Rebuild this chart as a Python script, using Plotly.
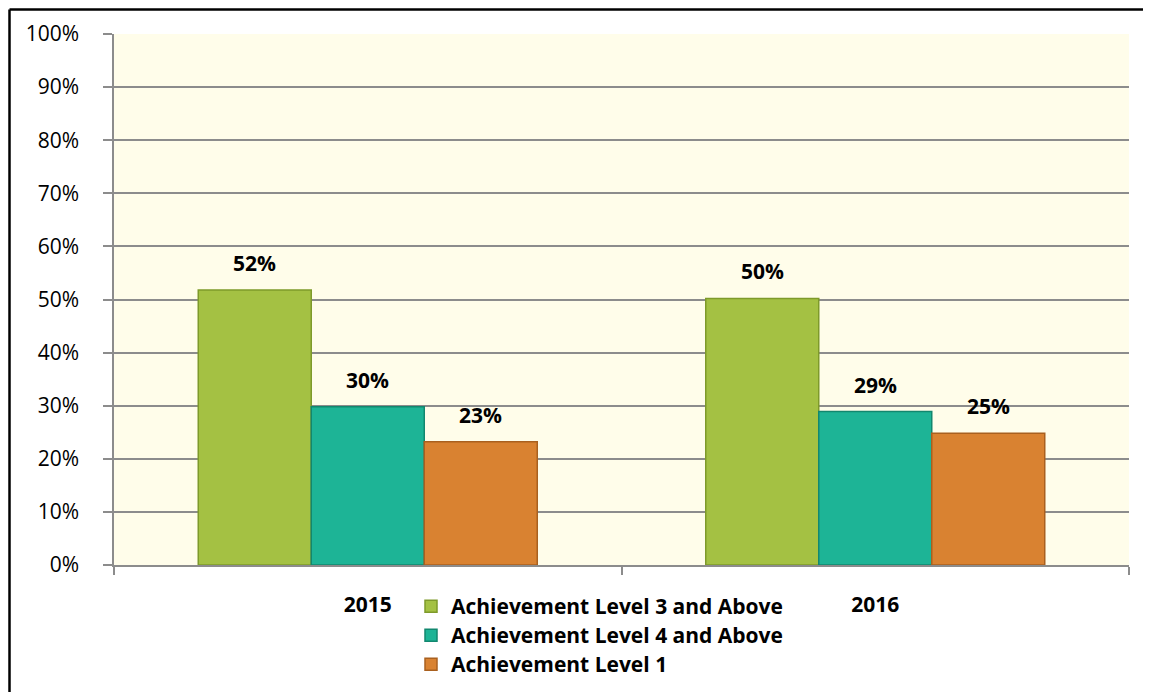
import plotly.graph_objects as go

years = ["2015", "2016"]
series_names = ["Achievement Level 3 and Above", "Achievement Level 4 and Above", "Achievement Level 1"]
level3_above = [51.8, 50.2]
level4_above = [29.8, 28.9]
level1 = [23.2, 24.8]
label_level3 = ["52%", "50%"]
label_level4 = ["30%", "29%"]
label_level1 = ["23%", "25%"]
y_ticks = [0, 10, 20, 30, 40, 50, 60, 70, 80, 90, 100]
y_tick_labels = [f"{v}%" for v in y_ticks]

colors = ["#A4C143", "#1DB496", "#D98231"]
edge_colors = ["#7E9A2A", "#12876F", "#A9601F"]

# page body has an 8px margin; the figure is sized to fill the rest of the window
OFF = 8
W, H = 1151 - OFF, 692 - OFF
ML, MT = 114 - OFF, 34 - OFF
MR = W - (1129 - OFF)
MB = H - (565 - OFF)
PW, PH = W - ML - MR, H - MT - MB

FONT = "Open Sans"

def px_x(p):
    return (p - OFF - ML) / PW

def px_y(p):
    return (MT + PH - (p - OFF)) / PH

fig = go.Figure()
all_vals = [level3_above, level4_above, level1]
all_labels = [label_level3, label_level4, label_level1]
legend_ids = ["legend", "legend2", "legend3"]
legend_tops = [586, 615, 644]
for name, vals, c, ec, lid in zip(series_names, all_vals, colors, edge_colors, legend_ids):
    fig.add_trace(go.Bar(
        x=years, y=vals, name=name, legend=lid,
        marker=dict(color=c, line=dict(color=ec, width=1.5)),
    ))

# data labels above each bar (x given as category index)
bar_px = PW / 2 * 0.668 / 3
for i, (vals, labs) in enumerate(zip(all_vals, all_labels)):
    for j, (v, lab) in enumerate(zip(vals, labs)):
        fig.add_annotation(
            x=j, y=v, text=f"<b>{lab}</b>", showarrow=False,
            xshift=(i - 1) * bar_px, yshift=27,
            font=dict(family=FONT, size=21, color="black"),
        )

# outer chart frame: top and left edges (the rest is cropped in the reference)
frame = dict(color="black", width=2.5)
fig.add_shape(type="line", xref="paper", yref="paper",
              x0=px_x(9.5), x1=px_x(1151), y0=px_y(9.5), y1=px_y(9.5), line=frame, layer="above")
fig.add_shape(type="line", xref="paper", yref="paper",
              x0=px_x(9.5), x1=px_x(9.5), y0=px_y(9.5), y1=px_y(692), line=frame, layer="above")

legend_style = dict(
    x=px_x(411), xanchor="left", yanchor="top", orientation="v",
    font=dict(family=FONT, size=21, color="black", weight="bold"),
    itemwidth=30, bgcolor="rgba(0,0,0,0)",
)

fig.update_layout(
    width=W, height=H,
    margin=dict(l=ML, r=MR, t=MT, b=MB, autoexpand=False),
    paper_bgcolor="white",
    plot_bgcolor="#FFFDEA",
    barmode="group",
    bargap=0.332,
    bargroupgap=0,
    font=dict(family=FONT, color="black"),
    legend=dict(y=px_y(legend_tops[0]), **legend_style),
    legend2=dict(y=px_y(legend_tops[1]), **legend_style),
    legend3=dict(y=px_y(legend_tops[2]), **legend_style),
    showlegend=True,
)

fig.update_yaxes(
    range=[0, 100], tickvals=y_ticks, ticktext=y_tick_labels,
    showgrid=True, gridcolor="#8C8C8C", gridwidth=1.5,
    showline=True, linecolor="#8C8C8C", linewidth=1.5,
    ticks="outside", ticklen=9, tickcolor="#8C8C8C", tickwidth=1.5,
    tickfont=dict(family=FONT, size=21, color="black"),
    zeroline=False, ticklabelstandoff=20,
)
fig.update_xaxes(
    type="category", range=[-0.5, 1.5],
    showline=True, linecolor="#8C8C8C", linewidth=1.5,
    ticks="outside", tickson="boundaries", ticklen=8, tickcolor="#8C8C8C", tickwidth=1.5,
    tickfont=dict(family=FONT, size=21, color="black", weight="bold"),
    ticklabelstandoff=20,
)

fig.write_html("out.html")
